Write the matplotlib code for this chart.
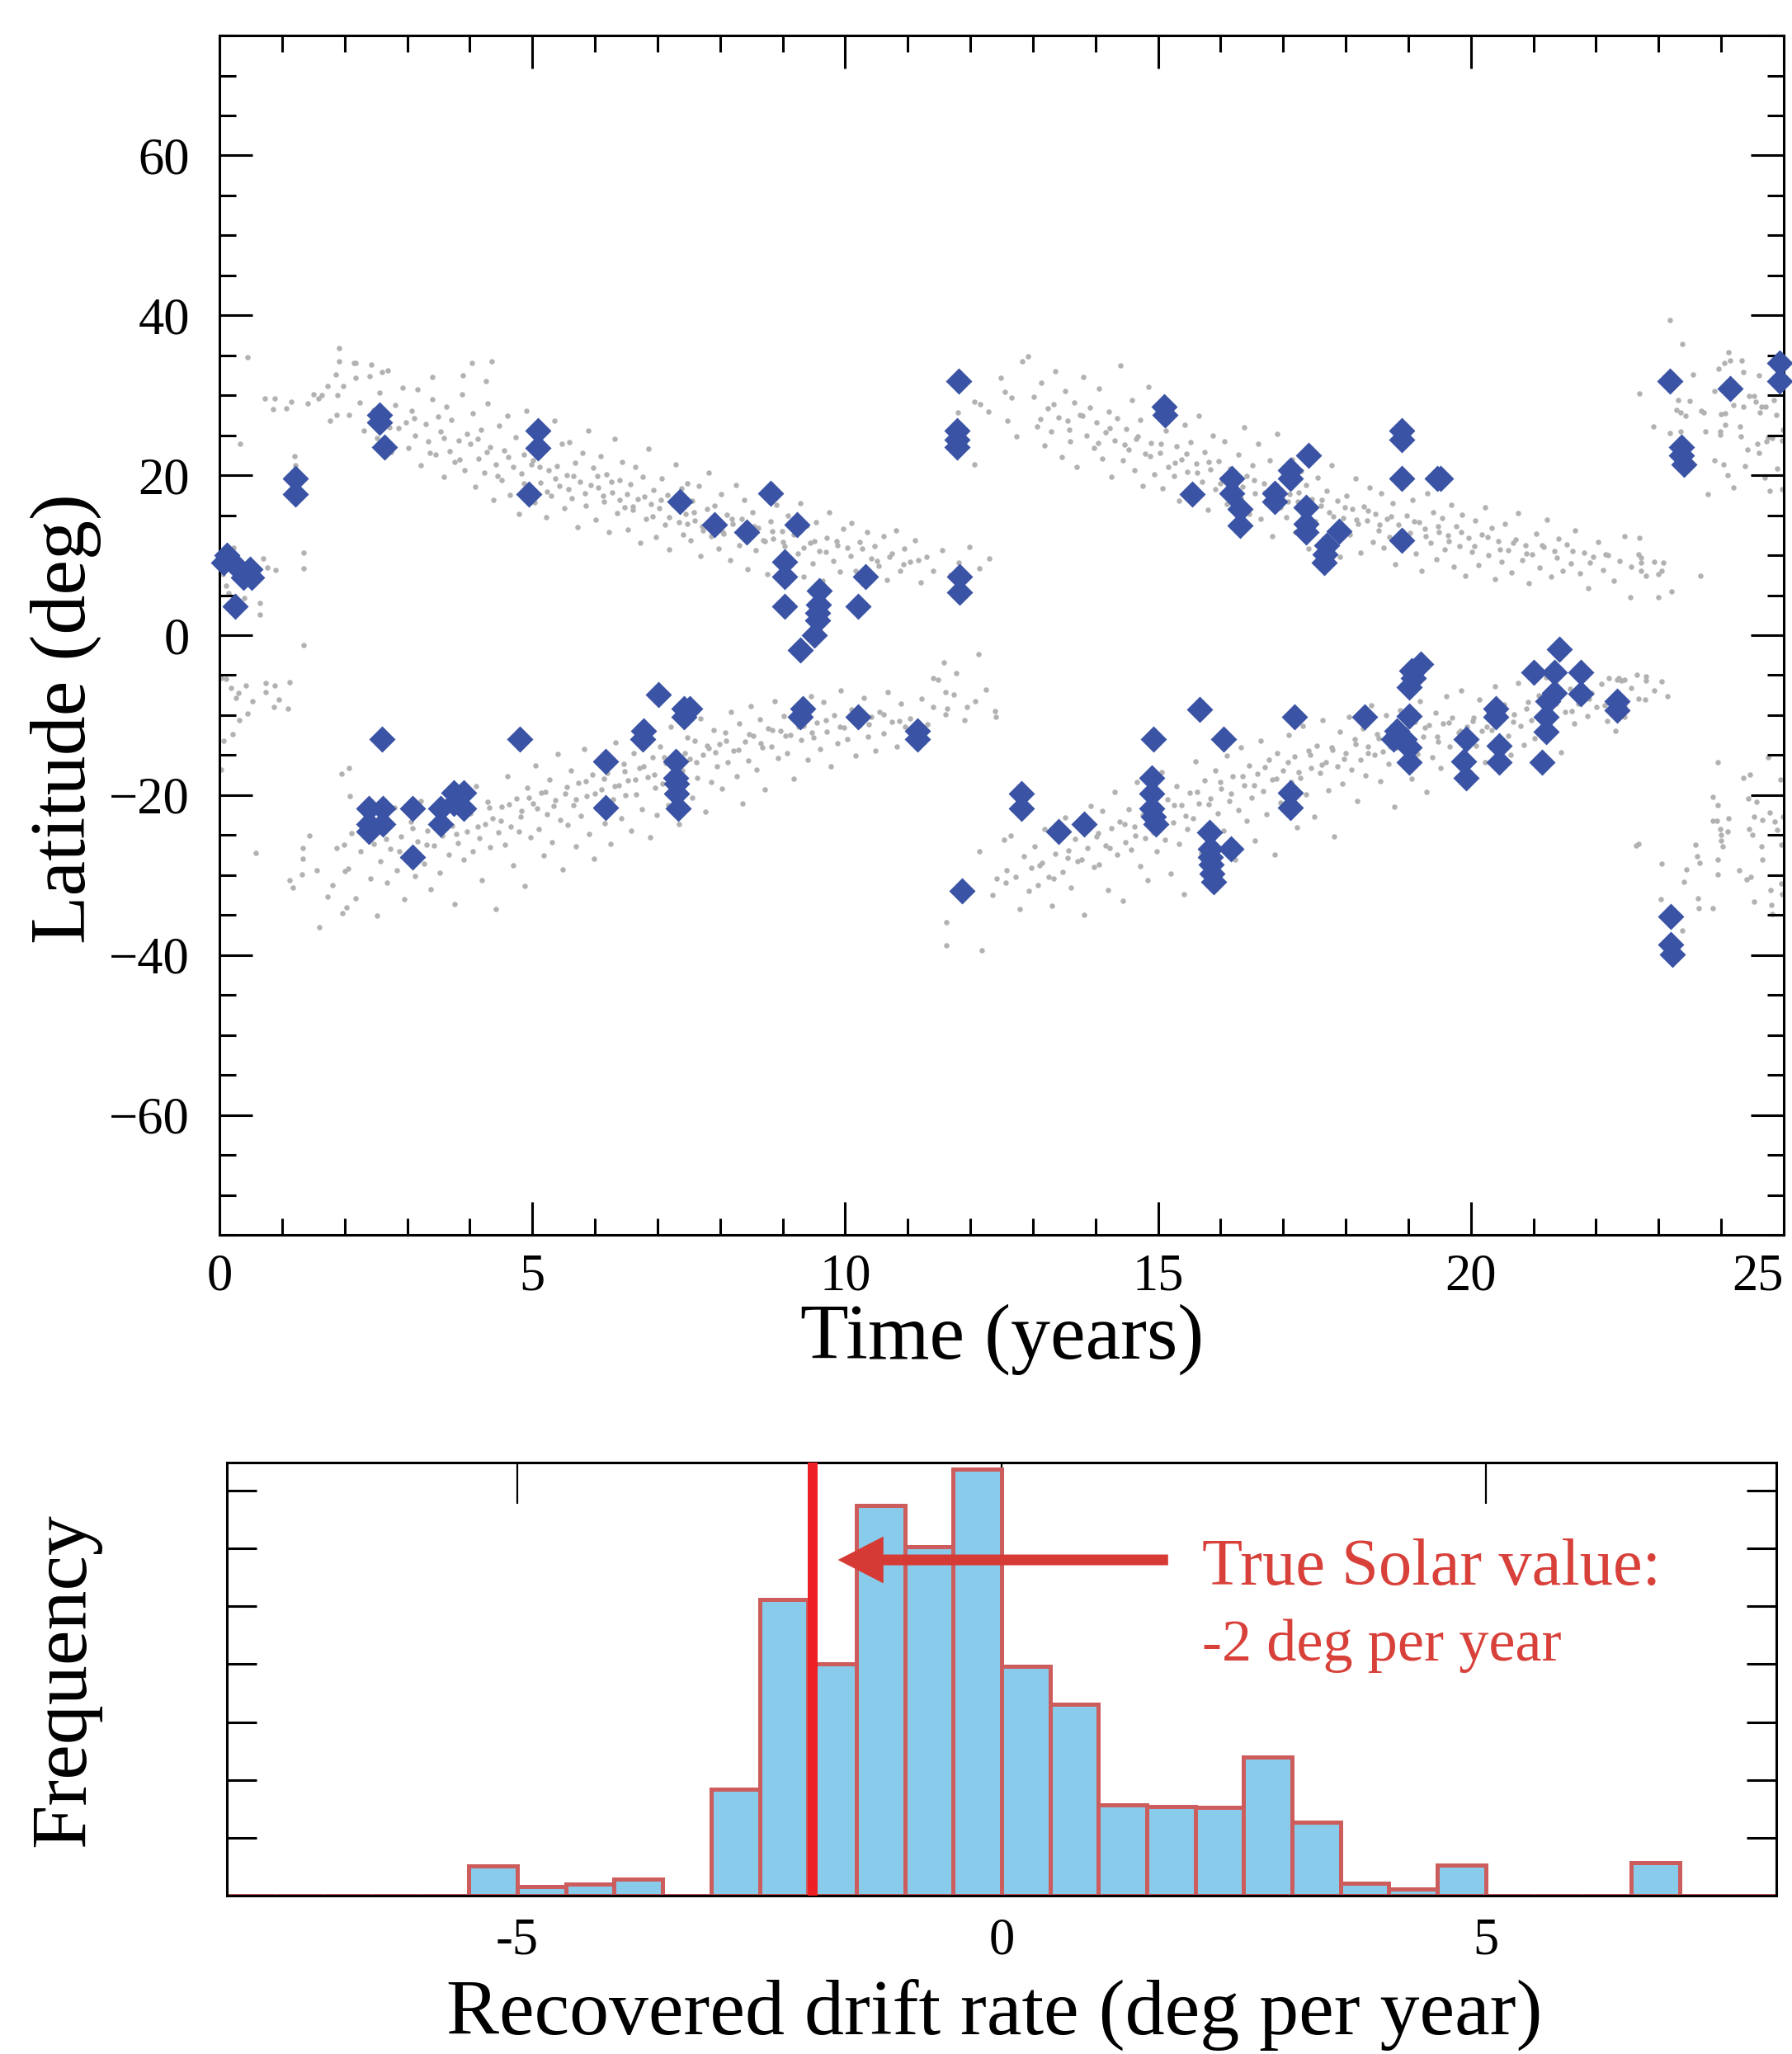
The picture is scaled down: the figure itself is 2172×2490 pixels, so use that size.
import numpy as np
import matplotlib
matplotlib.use("Agg")
import matplotlib.pyplot as plt
from matplotlib.ticker import MultipleLocator

plt.rcParams['font.family'] = ['Liberation Serif', 'DejaVu Serif']

# ---- butterfly diagram: spot groups (time in years, latitude in deg) ----
gray_edge = [
    (0.14, 5.3), (0.10, 6.2), (0.33, 23.9), (0.45, 34.8), (0.64, 4.0), (0.65, 2.6), (0.70, 9.6),
    (0.76, 8.5), (0.90, 8.2), (0.72, 29.6), (0.86, 28.3), (0.88, 29.6), (1.07, 28.4), (1.15, 29.2),
    (1.20, 22.4), (1.21, 21.3), (1.35, 10.3), (1.34, 8.4), (1.34, -1.2), (1.41, 29.0), (1.50, 30.1),
    (1.58, 29.6), (1.64, 30.0), (1.72, 31.2), (1.77, 26.8), (1.86, 32.6), (1.89, 30.0), (1.91, 35.9),
    (1.87, 27.6), (0.05, 7.6), (0.22, 10.9), (0.40, 4.6),
    (0.03, -5.4), (0.10, -5.5), (0.19, -6.6), (0.30, -7.2), (0.42, -6.3), (0.26, -7.8), (0.31, -10.6),
    (0.45, -9.8), (0.53, -8.3), (0.74, -6.0), (0.74, -7.1), (0.88, -6.3), (0.95, -8.0), (0.87, -9.0),
    (1.10, -9.2), (1.12, -5.9), (0.21, -12.4), (0.07, -13.2), (0.02, -16.8), (0.58, -27.2),
    (1.12, -30.6), (1.17, -31.6), (1.33, -26.6), (1.33, -28.0), (1.32, -29.9), (1.43, -25.1),
    (1.56, -29.4), (1.60, -36.5), (1.72, -32.7), (1.80, -31.3), (1.87, -26.6), (1.95, -17.3),
    (1.99, -26.2), (2.00, -29.5), (2.07, -16.6), (2.08, -20.1), (1.96, -34.8), (2.03, -34.0),
]

gray_n1 = [
    (4.04, 34.0), (4.35, 34.3), (3.89, 32.5), (4.26, 31.8), (3.40, 32.3), (2.42, 33.8), (2.18, 34.0),
    (1.91, 34.3), (2.60, 32.9), (2.17, 32.2),
    (1.98, 31.2), (2.07, 27.5), (2.15, 34.0), (2.24, 29.1), (2.31, 25.6), (2.40, 32.4), (2.47, 28.2),
    (2.52, 24.7), (2.56, 30.3), (2.63, 27.2), (2.69, 33.1), (2.74, 22.9), (2.81, 28.8), (2.86, 25.9),
    (2.93, 31.0), (2.98, 26.6), (3.02, 23.4), (3.07, 28.1), (3.13, 25.0), (3.17, 30.7), (3.22, 21.3),
    (3.29, 26.4), (3.34, 24.2), (3.40, 29.5), (3.45, 22.6), (3.49, 27.3), (3.53, 25.5), (3.58, 19.8),
    (3.62, 28.6), (3.68, 23.0), (3.71, 26.9), (3.76, 21.7), (3.82, 24.4), (3.87, 30.1), (3.91, 20.6),
    (3.96, 25.2), (4.01, 23.9), (4.05, 27.8), (4.09, 18.6), (4.14, 22.1), (4.18, 25.7), (4.23, 20.3),
    (4.29, 29.0), (4.33, 23.5), (4.38, 16.9), (4.42, 21.4), (4.47, 26.2), (4.51, 19.4), (4.55, 23.1),
    (4.60, 27.4), (4.64, 17.5), (4.69, 21.0), (4.73, 24.8), (4.78, 15.2), (4.82, 20.2), (4.87, 22.6),
    (4.91, 28.1), (4.96, 18.3), (5.01, 21.9), (5.04, 16.6), (5.09, 25.3), (5.13, 19.1), (5.17, 23.0),
    (5.22, 14.8), (5.26, 20.6), (5.30, 17.4), (5.35, 26.8), (5.39, 21.2), (5.43, 18.7), (5.47, 23.9),
    (5.51, 15.9), (5.55, 20.0), (5.59, 24.1), (5.63, 17.1), (5.68, 21.6), (5.72, 13.5), (5.76, 19.2),
    (5.80, 22.8), (5.85, 16.2), (5.89, 25.6), (5.93, 18.8), (5.97, 20.9), (6.01, 14.4), (6.05, 18.5),
    (6.09, 22.4), (6.14, 16.7), (6.18, 20.1), (6.22, 12.9), (6.27, 17.9), (6.31, 24.6), (6.35, 15.3),
    (6.40, 19.4), (6.44, 21.7), (6.48, 16.0), (6.52, 13.2), (6.57, 18.9), (6.61, 15.7), (6.64, 21.1),
    (6.68, 17.0), (6.73, 11.6), (6.77, 19.8), (6.81, 14.5), (6.86, 23.3), (6.90, 16.4), (6.94, 18.2),
    (6.98, 12.3), (7.03, 15.9), (7.07, 19.6), (7.12, 13.8), (7.16, 17.5), (7.19, 10.7), (7.25, 16.3),
    (7.29, 21.4), (7.34, 14.1), (7.38, 18.4), (7.41, 12.6), (7.45, 15.2), (7.48, 19.0), (7.53, 11.9),
    (7.56, 16.8), (7.60, 14.3), (7.66, 18.7), (7.69, 9.9), (7.73, 13.1), (7.79, 15.8), (7.82, 20.3),
    (7.86, 12.4), (7.91, 16.2), (7.95, 14.0), (7.98, 10.8), (8.02, 17.6), (8.06, 12.7), (8.11, 15.1),
    (8.16, 9.4), (8.20, 13.9), (8.25, 18.8), (8.30, 11.3), (8.34, 14.6), (8.39, 16.9), (8.44, 8.3),
    (8.48, 12.5), (8.52, 15.4), (8.57, 10.6), (8.61, 13.4), (8.67, 17.8), (8.71, 11.8), (8.76, 7.6),
    (8.81, 14.2), (8.85, 12.1), (8.90, 16.3), (8.95, 9.7), (8.99, 13.0), (9.03, 11.1), (9.08, 15.0),
    (9.13, 8.8), (9.19, 12.9), (9.24, 10.2), (9.28, 16.5), (9.34, 7.3), (9.39, 13.7), (9.44, 11.6),
    (9.48, 9.0), (9.53, 14.1), (9.59, 10.5), (9.64, 6.8), (9.70, 12.2), (9.75, 15.4), (9.81, 9.3),
    (9.86, 11.8), (9.92, 7.9), (9.97, 13.3), (10.04, 10.9), (10.10, 14.0), (10.16, 8.1), (10.23, 11.7),
    (10.29, 6.4), (10.35, 12.9), (10.42, 9.6), (10.47, 11.1), (10.54, 8.7), (10.61, 12.4), (10.67, 6.9),
    (10.74, 10.2), (10.81, 13.1), (10.88, 8.0), (10.95, 10.8), (11.03, 9.2), (11.12, 11.9), (11.21, 6.6),
    (11.30, 9.8), (11.41, 8.1), (11.55, 10.6), (11.68, 7.5), (11.82, 9.1), (11.98, 11.0), (12.15, 8.4),
    (12.30, 9.6),
    (2.71, 26.0), (3.11, 27.1), (3.36, 22.8), (3.59, 24.7), (3.84, 22.0), (4.12, 24.6), (4.27, 22.9),
    (4.44, 19.9), (4.62, 22.3), (4.86, 19.0), (4.99, 21.4), (5.12, 21.1), (5.24, 18.0), (5.37, 19.6),
    (5.58, 18.3), (5.66, 19.9), (5.84, 17.7), (6.04, 19.9), (6.13, 17.4), (6.26, 19.2), (6.39, 16.9),
    (6.51, 17.6), (6.60, 16.1), (6.79, 17.3), (6.92, 14.9), (7.05, 16.9), (7.18, 14.8), (7.32, 16.4),
    (7.47, 13.9), (7.58, 15.4), (7.71, 13.6), (7.89, 14.7), (8.04, 12.9), (8.19, 14.6), (8.36, 12.8),
    (8.55, 13.6), (8.69, 11.9), (8.84, 13.0), (9.01, 11.7), (9.17, 12.6), (9.33, 10.9), (9.51, 11.8),
    (9.69, 10.4), (9.87, 11.2), (10.08, 9.9), (10.27, 10.8), (10.51, 9.3), (10.71, 9.8), (10.93, 8.9),
    (11.17, 9.4),
]

gray_s1 = [
    (2.05, -29.2), (2.11, -24.8), (2.18, -32.9), (2.26, -27.0), (2.33, -22.5), (2.41, -30.4), (2.47, -26.1),
    (2.52, -35.1), (2.57, -28.3), (2.62, -24.0), (2.68, -30.9), (2.73, -26.7), (2.79, -21.6), (2.84, -29.4),
    (2.90, -25.2), (2.95, -33.0), (3.01, -27.5), (3.06, -23.3), (3.12, -30.1), (3.17, -25.8), (3.21, -20.7),
    (3.27, -28.6), (3.32, -24.4), (3.38, -31.8), (3.43, -26.3), (3.48, -22.0), (3.52, -29.7), (3.56, -25.1),
    (3.61, -21.2), (3.67, -27.4), (3.72, -23.8), (3.76, -33.6), (3.81, -26.0), (3.86, -19.5), (3.90, -28.1),
    (3.95, -24.6), (4.01, -22.3), (4.05, -27.0), (4.10, -18.9), (4.15, -25.4), (4.19, -30.6), (4.24, -23.6),
    (4.28, -20.8), (4.33, -26.5), (4.37, -22.9), (4.42, -34.2), (4.46, -24.7), (4.51, -21.5), (4.56, -26.2),
    (4.60, -17.6), (4.65, -23.9), (4.69, -28.8), (4.74, -20.4), (4.78, -24.6), (4.83, -22.0), (4.88, -31.4),
    (4.92, -19.1), (4.97, -25.3), (5.01, -21.0), (5.05, -16.3), (5.10, -24.2), (5.14, -19.7), (5.18, -27.5),
    (5.23, -22.4), (5.27, -18.1), (5.31, -25.9), (5.36, -20.6), (5.40, -14.9), (5.44, -23.1), (5.48, -29.3),
    (5.52, -19.8), (5.57, -23.7), (5.61, -16.9), (5.65, -21.3), (5.70, -26.4), (5.74, -18.5), (5.78, -22.6),
    (5.83, -14.2), (5.87, -20.1), (5.91, -24.9), (5.96, -17.4), (5.99, -28.0), (6.03, -21.7), (6.07, -15.6),
    (6.11, -19.3), (6.16, -23.5), (6.20, -17.2), (6.25, -26.1), (6.29, -20.5), (6.33, -13.4), (6.38, -18.8),
    (6.42, -22.9), (6.46, -16.1), (6.49, -20.0), (6.53, -18.2), (6.58, -24.4), (6.62, -14.7), (6.66, -19.9),
    (6.71, -16.6), (6.75, -21.8), (6.79, -12.3), (6.84, -17.7), (6.88, -25.3), (6.92, -15.3), (6.96, -19.1),
    (6.99, -22.5), (7.04, -13.9), (7.08, -18.6), (7.13, -16.0), (7.17, -21.2), (7.21, -11.5), (7.26, -17.3),
    (7.30, -14.6), (7.35, -23.6), (7.39, -16.9), (7.44, -19.7), (7.47, -12.8), (7.51, -15.5), (7.55, -20.3),
    (7.60, -13.2), (7.64, -17.8), (7.68, -10.4), (7.73, -15.0), (7.77, -22.1), (7.82, -14.1), (7.86, -18.4),
    (7.90, -11.9), (7.95, -16.4), (7.99, -13.6), (8.03, -19.2), (8.08, -12.2), (8.12, -15.9), (8.17, -9.6),
    (8.22, -14.4), (8.27, -17.6), (8.31, -11.0), (8.36, -21.0), (8.40, -13.3), (8.45, -15.7), (8.49, -8.9),
    (8.53, -12.6), (8.58, -16.8), (8.63, -10.5), (8.68, -14.0), (8.72, -19.3), (8.77, -11.7), (8.82, -13.9),
    (8.87, -8.2), (8.92, -15.4), (8.97, -12.0), (9.02, -10.1), (9.07, -14.7), (9.12, -12.5), (9.18, -17.9),
    (9.23, -9.0), (9.29, -13.1), (9.34, -11.3), (9.40, -15.6), (9.45, -7.6), (9.49, -12.8), (9.54, -10.9),
    (9.60, -14.2), (9.65, -8.4), (9.71, -12.1), (9.77, -16.4), (9.82, -10.0), (9.88, -13.5), (9.93, -6.9),
    (9.98, -11.6), (10.04, -13.0), (10.10, -9.3), (10.17, -15.1), (10.23, -11.2), (10.30, -7.8), (10.36, -12.7),
    (10.42, -10.2), (10.48, -14.4), (10.55, -9.6), (10.62, -12.3), (10.68, -7.1), (10.75, -10.8), (10.82, -13.9),
    (10.89, -8.6), (10.96, -11.5), (11.04, -10.4), (11.13, -13.2), (11.22, -7.9), (11.31, -11.1), (11.40, -9.0),
    (11.49, -5.6), (11.60, -9.9), (11.74, -7.4), (11.90, -10.6), (12.08, -8.3), (12.25, -6.8), (12.40, -9.5),
    (11.58, -3.4), (11.77, -4.7), (11.40, -5.4), (11.60, -7.1), (11.63, -9.2), (11.95, -9.0), (12.13, -2.4),
    (12.41, -10.2),
    (2.66, -25.5), (2.88, -27.0), (3.09, -24.1), (3.31, -26.2), (3.57, -23.4), (3.79, -24.9), (3.99, -22.2),
    (4.13, -23.9), (4.31, -21.6), (4.49, -23.2), (4.63, -21.1), (4.81, -22.7), (4.95, -20.3), (5.08, -21.7),
    (5.21, -19.6), (5.34, -21.4), (5.55, -19.0), (5.69, -20.5), (5.86, -18.3), (6.00, -19.8), (6.14, -17.9),
    (6.31, -18.9), (6.47, -17.0), (6.64, -18.1), (6.78, -16.4), (6.95, -17.4), (7.11, -15.3), (7.28, -16.6),
    (7.43, -14.8), (7.62, -15.9), (7.79, -13.8), (7.93, -14.6), (8.10, -13.2), (8.29, -14.3), (8.47, -12.4),
    (8.65, -13.5), (8.84, -11.9), (9.05, -12.6), (9.26, -11.4), (9.47, -12.2), (9.69, -10.6), (9.91, -11.5),
    (10.13, -10.3), (10.38, -11.1), (10.61, -9.9), (10.86, -10.7),
]

gray_n2 = [
    (12.07, 29.2), (12.16, 28.9), (12.29, 28.0), (12.48, 32.2), (12.55, 30.4), (12.66, 29.7), (12.59, 26.8),
    (12.74, 24.9), (12.83, 34.3), (12.92, 34.9), (11.80, 27.9), (12.06, 21.4),
    (13.02, 29.8), (13.07, 26.1), (13.13, 31.6), (13.18, 23.7), (13.24, 28.4), (13.29, 25.5), (13.35, 33.0),
    (13.41, 27.2), (13.46, 22.3), (13.51, 30.5), (13.55, 26.8), (13.60, 24.2), (13.66, 29.1), (13.70, 21.0),
    (13.75, 27.6), (13.81, 32.3), (13.86, 25.0), (13.91, 28.5), (13.97, 23.4), (14.02, 26.6), (14.06, 30.8),
    (14.11, 22.1), (14.16, 25.4), (14.21, 28.0), (14.25, 19.8), (14.30, 24.3), (14.35, 27.1), (14.40, 33.7),
    (14.44, 21.9), (14.49, 25.8), (14.53, 23.2), (14.58, 29.4), (14.62, 20.6), (14.67, 24.9), (14.71, 26.9),
    (14.76, 18.7), (14.80, 22.7), (14.85, 31.1), (14.89, 24.0), (14.94, 20.1), (14.98, 27.5), (15.03, 22.8),
    (15.07, 18.4), (15.12, 25.6), (15.16, 21.1), (15.21, 28.7), (15.25, 19.9), (15.30, 23.6), (15.34, 16.8),
    (15.38, 22.0), (15.43, 26.3), (15.47, 20.4), (15.52, 24.1), (15.56, 17.6), (15.61, 21.5), (15.65, 27.4),
    (15.70, 19.2), (15.74, 22.9), (15.79, 15.7), (15.83, 20.7), (15.88, 25.0), (15.92, 18.3), (15.97, 21.8),
    (16.02, 19.6), (16.06, 24.2), (16.10, 16.4), (16.15, 20.8), (16.19, 13.9), (16.24, 18.9), (16.28, 22.6),
    (16.33, 17.1), (16.37, 26.0), (16.42, 19.9), (16.46, 15.2), (16.51, 21.3), (16.55, 17.8), (16.60, 23.9),
    (16.64, 14.6), (16.69, 19.0), (16.73, 16.5), (16.78, 21.9), (16.82, 12.4), (16.87, 18.2), (16.91, 25.2),
    (16.96, 16.0), (17.01, 19.4), (17.05, 14.8), (17.10, 17.6), (17.14, 22.0), (17.19, 12.9), (17.23, 16.7),
    (17.28, 20.5), (17.32, 15.1), (17.37, 18.8), (17.41, 10.8), (17.46, 17.0), (17.51, 14.2), (17.55, 19.7),
    (17.60, 16.2), (17.64, 12.1), (17.69, 18.1), (17.73, 15.4), (17.78, 21.3), (17.82, 13.5), (17.87, 16.8),
    (17.91, 9.8), (17.96, 14.7), (18.01, 17.4), (18.06, 12.6), (18.10, 15.8), (18.15, 19.6), (18.20, 13.9),
    (18.24, 10.3), (18.29, 16.1), (18.34, 14.3), (18.38, 18.5), (18.43, 11.7), (18.47, 15.2), (18.52, 13.1),
    (18.56, 17.7), (18.61, 10.9), (18.66, 14.6), (18.70, 12.3), (18.75, 16.5), (18.79, 8.9), (18.84, 13.8),
    (18.89, 19.4), (18.93, 11.5), (18.98, 15.0), (19.03, 12.8), (19.07, 16.9), (19.12, 10.2), (19.17, 14.1),
    (19.21, 8.1), (19.26, 13.3), (19.31, 17.8), (19.35, 11.6), (19.40, 15.4), (19.45, 9.5), (19.49, 12.9),
    (19.54, 14.7), (19.58, 10.7), (19.63, 12.5), (19.68, 16.3), (19.72, 8.6), (19.77, 13.6), (19.82, 11.1),
    (19.86, 15.1), (19.91, 7.4), (19.96, 12.2), (20.02, 10.4), (20.07, 14.3), (20.12, 8.8), (20.17, 12.6),
    (20.23, 16.0), (20.28, 10.0), (20.33, 13.4), (20.39, 7.0), (20.44, 11.8), (20.49, 9.2), (20.54, 13.9),
    (20.60, 10.6), (20.65, 7.8), (20.71, 12.0), (20.76, 15.3), (20.82, 9.4), (20.87, 11.3), (20.93, 6.5),
    (20.98, 10.1), (21.04, 12.7), (21.10, 8.5), (21.16, 11.0), (21.22, 14.4), (21.28, 7.3), (21.34, 10.5),
    (21.40, 12.1), (21.46, 8.0), (21.53, 11.4), (21.60, 9.0), (21.67, 13.1), (21.74, 7.7), (21.81, 10.3),
    (21.88, 5.9), (21.95, 9.8), (22.03, 11.7), (22.11, 8.2), (22.19, 10.0), (22.28, 6.8), (22.37, 9.3),
    (22.46, 12.4), (22.56, 8.6), (22.68, 10.1), (22.80, 7.4), (22.93, 9.2), (23.05, 8.0),
    (22.69, 12.2), (22.72, 9.7), (22.72, 9.1), (22.72, 8.0), (23.00, 7.6), (23.07, 9.1), (23.20, 5.5),
    (23.00, 4.8), (23.67, 7.4), (22.55, 4.8),
    (13.12, 27.0), (13.33, 28.9), (13.58, 25.7), (13.79, 27.4), (14.04, 24.0), (14.23, 25.9), (14.46, 23.8),
    (14.65, 24.6), (14.87, 22.4), (15.05, 23.9), (15.27, 21.6), (15.45, 22.7), (15.63, 20.3), (15.81, 21.7),
    (16.00, 19.0), (16.17, 20.5), (16.35, 18.6), (16.53, 19.4), (16.71, 17.9), (16.89, 18.8), (17.07, 16.7),
    (17.25, 17.9), (17.43, 15.8), (17.62, 16.9), (17.80, 14.9), (17.98, 16.0), (18.17, 14.4), (18.36, 15.6),
    (18.54, 13.8), (18.72, 14.9), (18.91, 13.0), (19.09, 14.2), (19.28, 12.4), (19.47, 13.6), (19.65, 11.8),
    (19.84, 12.9), (20.05, 11.1), (20.26, 12.3), (20.47, 10.7), (20.68, 11.6), (20.89, 10.2), (21.13, 11.2),
    (21.37, 9.7), (21.62, 10.5), (21.90, 9.1), (22.15, 10.1),
]

gray_s2 = [
    (11.62, -35.9), (11.62, -38.8), (12.18, -39.4), (12.15, -27.0), (12.35, -32.5), (12.42, -30.4),
    (12.54, -25.6), (12.64, -25.1), (12.58, -29.4), (12.56, -30.9), (12.72, -30.2), (12.79, -34.3),
    (12.86, -27.6), (12.93, -32.0), (12.98, -29.1), (13.03, -26.4), (13.08, -31.3), (13.14, -28.5),
    (13.19, -24.2), (13.25, -30.2), (13.30, -33.8), (13.36, -27.3), (13.42, -25.0), (13.47, -29.6),
    (13.52, -22.8), (13.56, -27.9), (13.61, -31.6), (13.67, -25.5), (13.71, -28.3), (13.76, -23.7),
    (13.82, -35.0), (13.87, -26.6), (13.92, -21.4), (13.97, -29.0), (14.02, -25.2), (14.06, -28.7),
    (14.11, -22.0), (14.16, -26.3), (14.20, -31.9), (14.25, -24.1), (14.30, -19.6), (14.35, -27.4),
    (14.39, -23.3), (14.44, -33.2), (14.48, -25.9), (14.53, -21.8), (14.57, -26.8), (14.62, -23.9),
    (14.66, -18.4), (14.71, -28.9), (14.75, -22.5), (14.80, -25.4), (14.84, -30.6), (14.89, -20.2),
    (14.93, -24.7), (14.98, -27.0), (15.02, -22.2), (15.06, -17.1), (15.11, -25.6), (15.15, -20.5),
    (15.20, -29.8), (15.24, -23.4), (15.29, -18.9), (15.33, -26.1), (15.38, -21.3), (15.42, -32.4),
    (15.47, -24.2), (15.51, -19.7), (15.56, -22.9), (15.60, -15.8), (15.65, -21.0), (15.69, -27.2),
    (15.74, -18.2), (15.78, -23.8), (15.83, -20.4), (15.87, -25.5), (15.92, -16.9), (15.96, -22.3),
    (16.01, -19.2), (16.05, -24.4), (16.10, -15.1), (16.14, -20.7), (16.19, -17.6), (16.23, -28.1),
    (16.28, -21.9), (16.32, -14.0), (16.37, -18.8), (16.41, -23.2), (16.46, -16.3), (16.50, -20.3),
    (16.55, -25.7), (16.59, -17.3), (16.64, -13.2), (16.68, -19.5), (16.73, -22.4), (16.77, -15.6),
    (16.82, -18.1), (16.86, -27.4), (16.91, -14.7), (16.95, -20.9), (17.00, -16.9), (17.04, -21.6),
    (17.09, -12.5), (17.13, -18.4), (17.18, -15.2), (17.22, -24.0), (17.27, -17.8), (17.31, -11.3),
    (17.36, -19.9), (17.40, -14.4), (17.45, -16.6), (17.50, -22.7), (17.54, -13.8), (17.59, -17.2),
    (17.63, -10.6), (17.68, -15.9), (17.72, -19.4), (17.77, -14.0), (17.81, -25.2), (17.86, -16.4),
    (17.90, -12.1), (17.95, -18.6), (18.00, -14.8), (18.05, -10.2), (18.09, -16.8), (18.14, -13.0),
    (18.18, -20.7), (18.23, -15.6), (18.27, -11.7), (18.32, -17.5), (18.36, -13.9), (18.41, -8.8),
    (18.46, -15.0), (18.50, -12.4), (18.55, -18.3), (18.59, -14.5), (18.64, -10.0), (18.68, -16.1),
    (18.73, -12.9), (18.77, -21.5), (18.82, -14.0), (18.87, -9.4), (18.91, -15.7), (18.96, -11.8),
    (19.01, -13.6), (19.05, -17.9), (19.10, -10.8), (19.15, -14.9), (19.19, -8.3), (19.24, -12.7),
    (19.29, -19.6), (19.33, -11.2), (19.38, -15.3), (19.43, -9.7), (19.47, -13.3), (19.52, -16.6),
    (19.56, -11.0), (19.61, -7.6), (19.66, -13.9), (19.70, -10.3), (19.75, -15.8), (19.80, -12.2),
    (19.84, -6.9), (19.89, -14.5), (19.94, -11.4), (19.98, -18.2), (20.03, -10.7), (20.08, -13.8),
    (20.13, -8.0), (20.18, -12.0), (20.23, -15.9), (20.28, -9.6), (20.33, -11.9), (20.38, -6.4),
    (20.43, -13.4), (20.48, -10.1), (20.53, -8.7), (20.59, -12.6), (20.64, -15.0), (20.69, -9.9),
    (20.75, -6.0), (20.80, -11.3), (20.85, -13.7), (20.91, -8.4), (20.96, -10.6), (21.02, -12.9),
    (21.08, -7.5), (21.14, -10.4), (21.20, -5.3), (21.26, -9.1), (21.32, -12.1), (21.38, -8.0),
    (21.44, -14.6), (21.51, -9.6), (21.58, -6.7), (21.65, -11.0), (21.72, -8.6), (21.79, -4.9),
    (21.86, -10.1), (21.93, -7.2), (22.01, -9.0), (22.09, -6.1), (22.18, -10.7), (22.27, -7.7),
    (22.36, -5.4), (22.45, -8.9), (22.56, -6.6), (22.68, -7.9), (22.80, -5.2), (22.93, -6.9),
    (23.05, -5.8), (22.34, -5.6), (22.40, -5.7), (22.46, -5.6), (22.65, -5.0), (22.80, -5.7),
    (22.78, -8.0), (23.14, -7.6), (22.45, -10.2), (22.31, -12.0), (22.20, -5.4),
    (13.11, -28.8), (13.33, -30.4), (13.57, -26.9), (13.78, -28.1), (14.04, -24.8), (14.23, -26.6),
    (14.46, -23.6), (14.64, -25.1), (14.86, -22.1), (15.04, -23.7), (15.26, -21.2), (15.44, -22.6),
    (15.62, -19.6), (15.81, -21.1), (15.99, -18.4), (16.16, -19.8), (16.35, -17.6), (16.53, -18.8),
    (16.71, -16.5), (16.89, -17.9), (17.07, -15.9), (17.25, -17.1), (17.43, -15.0), (17.61, -16.2),
    (17.79, -14.3), (17.97, -15.5), (18.16, -13.6), (18.35, -14.8), (18.53, -12.9), (18.71, -13.9),
    (18.90, -12.2), (19.08, -13.4), (19.27, -11.6), (19.46, -12.7), (19.64, -10.9), (19.83, -12.0),
    (20.04, -10.3), (20.25, -11.4), (20.46, -9.7), (20.67, -10.8), (20.88, -9.2), (21.12, -10.1),
    (21.36, -8.6), (21.61, -9.5), (21.89, -7.9), (22.14, -8.8),
]

gray_n3 = [
    (23.18, 39.4), (23.38, 36.4), (22.69, 30.2), (22.92, 26.1), (23.18, 25.3), (23.31, 29.4), (23.50, 29.3),
    (23.28, 28.2), (23.35, 27.9), (23.43, 27.4), (23.68, 28.1), (23.72, 27.9), (23.55, 32.6), (23.35, 25.5),
    (23.75, 25.5), (23.79, 17.6), (23.89, 30.5), (23.89, 21.9), (23.96, 33.3), (24.05, 34.1), (24.11, 35.4),
    (24.14, 34.4), (24.33, 34.4), (24.36, 32.9), (24.00, 27.7), (24.06, 27.8), (24.06, 26.3), (23.99, 25.5),
    (23.99, 25.1), (24.04, 21.4), (24.10, 20.0), (24.20, 18.5), (24.20, 28.8), (24.30, 26.1), (24.32, 24.9),
    (24.36, 28.6), (24.38, 21.2), (24.42, 23.2), (24.45, 29.9), (24.53, 29.9), (24.55, 29.2), (24.60, 32.5),
    (24.62, 27.9), (24.58, 23.9), (24.60, 22.8), (24.64, 28.6), (24.71, 28.6), (24.70, 19.7), (24.75, 24.8),
    (24.72, 24.2), (24.81, 24.7), (24.77, 18.1), (24.84, 29.4), (24.88, 27.5), (24.89, 20.8), (24.97, 24.3),
    (24.97, 18.3), (24.99, 25.7),
]

gray_s3 = [
    (22.64, -26.3), (22.68, -26.1), (23.05, -28.6), (23.04, -33.0), (23.40, -30.8), (23.44, -29.3),
    (23.38, -36.9), (23.59, -26.2), (23.62, -27.6), (23.66, -28.5), (23.63, -32.9), (23.64, -34.1),
    (23.86, -20.2), (23.86, -23.2), (23.93, -23.2), (23.87, -34.1), (23.95, -21.2), (23.98, -24.2),
    (24.00, -25.0), (24.00, -25.7), (24.02, -26.4), (23.95, -28.1), (23.95, -29.9), (23.95, -15.9),
    (24.10, -24.5), (24.12, -22.9), (24.29, -29.4), (24.35, -17.8), (24.41, -30.5), (24.43, -20.4),
    (24.46, -17.4), (24.47, -30.2), (24.44, -24.2), (24.50, -25.0), (24.52, -22.7), (24.53, -33.3),
    (24.56, -20.8), (24.65, -26.4), (24.66, -28.1), (24.66, -23.1), (24.75, -15.3), (24.77, -22.2),
    (24.79, -31.9), (24.80, -33.7), (24.82, -34.9), (24.86, -23.3), (24.90, -24.3), (24.96, -26.2),
    (24.96, -31.0), (24.97, -32.4), (24.95, -18.1), (24.99, -22.7),
]

# tracked groups used for the drift fit
blue_pts = [
    (0.06, 9.1), (0.12, 10.0), (0.25, 8.8), (0.38, 7.2), (0.49, 8.3), (0.51, 7.2), (0.25, 3.6),
    (1.21, 19.6), (1.21, 17.6), (2.56, 27.6), (2.56, 26.6), (2.63, 23.5),
    (5.09, 25.6), (5.09, 23.4), (4.95, 17.6), (7.36, 16.7), (7.91, 13.8), (8.42, 12.9), (8.81, 17.7),
    (9.23, 13.8), (9.03, 9.2), (9.03, 7.3), (9.03, 3.6), (10.32, 7.3), (10.21, 3.6),
    (9.58, 5.6), (9.57, 3.8), (9.56, 2.8), (9.56, 1.9), (9.51, 0.0), (9.28, -1.9),
    (11.83, 7.3), (11.83, 5.4), (11.82, 31.8), (11.79, 25.6), (11.79, 24.5), (11.79, 23.5),
    (15.10, 28.6), (15.11, 27.6), (15.54, 17.6), (16.18, 19.6), (16.18, 17.7), (16.31, 15.8), (16.31, 13.7),
    (16.86, 17.7), (16.86, 16.7), (17.12, 20.6), (17.12, 19.6), (17.40, 22.5), (17.36, 16.0), (17.36, 13.9),
    (17.36, 12.9), (17.89, 13.0), (17.70, 11.3), (17.67, 10.1), (17.66, 9.1),
    (18.90, 25.6), (18.90, 24.5), (18.90, 19.6), (19.46, 19.6), (19.52, 19.6), (18.90, 11.9),
    (23.18, 31.8), (23.36, 23.5), (23.37, 22.5), (23.41, 21.4), (24.14, 30.8), (24.93, 34.0), (24.93, 31.8),
    (2.60, -13.0), (2.39, -21.7), (2.61, -21.7), (2.39, -23.6), (2.61, -23.6), (2.39, -24.6),
    (3.08, -21.7), (3.08, -27.7), (3.53, -21.7), (3.53, -23.6), (3.74, -19.7), (3.90, -19.7), (3.74, -21.0),
    (3.90, -21.7), (4.80, -13.0), (6.17, -15.8), (6.17, -21.6), (7.02, -7.4), (6.78, -12.0), (6.76, -13.0),
    (7.42, -9.2), (7.52, -9.2), (7.42, -10.2), (7.29, -15.8), (7.29, -17.8), (7.31, -18.6), (7.31, -19.8),
    (7.33, -21.7), (9.32, -9.2), (9.28, -10.2), (10.20, -10.2), (11.16, -12.0), (11.15, -13.0), (11.87, -32.0),
    (12.81, -19.8), (12.82, -21.7), (13.41, -24.6), (13.82, -23.6),
    (14.92, -13.0), (14.90, -17.8), (14.90, -19.8), (14.90, -21.7), (14.93, -22.7), (14.96, -23.6),
    (15.66, -9.3), (16.05, -13.0), (15.82, -24.7), (16.16, -26.7), (15.83, -26.7), (15.84, -27.7),
    (15.85, -28.7), (15.86, -29.8), (15.89, -30.8),
    (17.18, -10.2), (18.30, -10.2), (17.11, -19.7), (17.11, -21.6),
    (19.01, -10.1), (18.82, -12.0), (18.93, -13.0), (19.01, -14.0), (19.01, -15.9), (18.76, -13.0),
    (19.05, -4.4), (19.20, -3.6), (19.08, -5.4), (19.01, -6.5),
    (19.92, -13.0), (19.88, -15.8), (19.92, -17.8), (20.40, -9.2), (20.40, -10.2), (20.45, -13.8), (20.45, -15.9),
    (21.14, -15.9), (21.20, -12.1), (21.20, -10.2), (21.23, -8.2), (21.01, -4.6), (21.41, -1.8), (21.34, -4.6),
    (21.75, -4.6), (21.75, -7.3), (21.34, -7.2), (22.34, -8.3), (22.33, -9.4),
    (23.19, -35.2), (23.19, -38.7), (23.22, -39.9),
]

# ---- histogram of recovered drift rates ----
bin_width = 0.5
freq = [0, 0, 0, 0, 0, 0.507, 0.163, 0.200, 0.283, 0, 1.842, 5.12, 4.005, 6.746, 6.03, 7.37,
        3.956, 3.31, 1.564, 1.542, 1.526, 2.40, 1.27, 0.218, 0.109, 0.523, 0, 0, 0, 0.572, 0, 0]
bin_left = np.arange(-8, 8, bin_width)
true_rate = -1.95

gray = gray_edge + gray_n1 + gray_s1 + gray_n2 + gray_s2 + gray_n3 + gray_s3
gray_t = [p[0] for p in gray]
gray_lat = [p[1] for p in gray]
blue_t = [p[0] for p in blue_pts]
blue_lat = [p[1] for p in blue_pts]

fig = plt.figure(figsize=(10.86, 12.45), dpi=200)

ax = fig.add_axes([0.1225, 0.3988, 0.8729, 0.5839])
ax.scatter(gray_t, gray_lat, s=5.5, c='#b2b2b2', linewidths=0, zorder=1)
ax.plot(blue_t, blue_lat, 'D', ms=7.9, mfc='#3a53a4', mec='none', clip_on=False, zorder=3)
ax.set_xlim(0, 25)
ax.set_ylim(-75, 75)
ax.set_xticks([0, 5, 10, 15, 20, 25])
ax.xaxis.set_minor_locator(MultipleLocator(1))
ax.yaxis.set_major_locator(MultipleLocator(20))
ax.yaxis.set_minor_locator(MultipleLocator(5))
ax.tick_params(which='both', direction='in', top=True, right=True, width=1.1, labelsize=22.5)
ax.tick_params(which='major', length=14.4)
ax.tick_params(which='minor', length=7.2)
ax.tick_params(axis='x', pad=8)
ax.tick_params(axis='y', pad=13)
ax.get_xticklabels()[-1].set_horizontalalignment('right')
for s in ax.spines.values():
    s.set_linewidth(1.1)

ax2 = fig.add_axes([0.1266, 0.0771, 0.8646, 0.2108])
ax2.bar(bin_left, freq, width=bin_width, align='edge', color='#89cbea',
        edgecolor='#cd5c5c', linewidth=1.8, zorder=2)
ax2.axvline(true_rate, color='#ee2024', lw=4.3, zorder=3)
ax2.arrow(1.72, 5.80, -3.41, 0, width=0.185, head_width=0.81, head_length=0.47,
          length_includes_head=True, color='#d63a34', lw=0, zorder=4)
ax2.text(2.07, 5.37, 'True Solar value:', color='#d8403a', fontsize=29)
ax2.text(2.07, 4.06, '-2 deg per year', color='#d8403a', fontsize=26)
ax2.set_xlim(-8, 8)
ax2.set_ylim(0, 7.48)
ax2.set_xticks([-5, 0, 5])
ax2.set_xticklabels(['-5', '0', '5'])
ax2.set_yticks(range(1, 8))
ax2.set_yticklabels([])
ax2.tick_params(axis='x', direction='in', top=True, bottom=False, labelbottom=True,
                length=18, width=0.8, pad=9.5, labelsize=22.5)
ax2.tick_params(axis='y', direction='in', left=True, right=True, length=13, width=1.1)
for s in ax2.spines.values():
    s.set_linewidth(1.1)

fig.text(0.0365, 0.650, 'Latitude (deg)', rotation=90, ha='center', va='center', fontsize=34.5)
fig.text(0.5594, 0.3480, 'Time (years)', ha='center', va='center', fontsize=34.5)
fig.text(0.0365, 0.182, 'Frequency', rotation=90, ha='center', va='center', fontsize=34.5)
fig.text(0.5548, 0.0193, 'Recovered drift rate (deg per year)', ha='center', va='center', fontsize=34.5)

fig.savefig('out.png', dpi=200)
